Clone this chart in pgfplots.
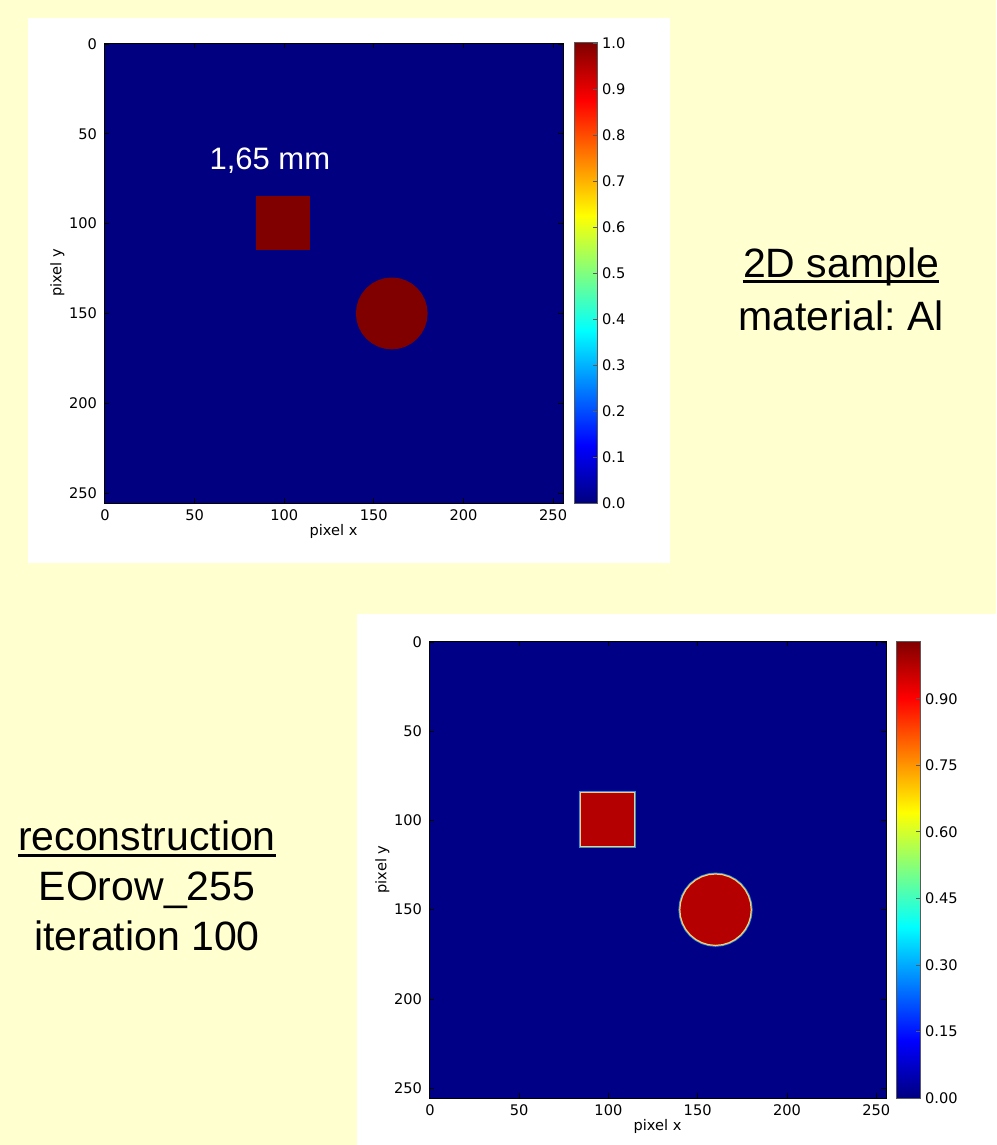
\documentclass[border=0pt]{standalone}
\usepackage{fontspec}
\setmainfont{Liberation Sans}
\newfontfamily\dejavu{DejaVu Sans}
\usepackage{pgfplots}
\usepackage{pgfplotstable}
\pgfplotsset{compat=1.18}
\frenchspacing

\definecolor{slidebg}{RGB}{255,255,208}
\definecolor{jetlow}{RGB}{0,0,128}
\definecolor{jethigh}{RGB}{128,0,0}
\definecolor{recbg}{RGB}{0,0,134}
\definecolor{recred}{RGB}{180,0,0}
\definecolor{recrim}{RGB}{250,205,110}
\definecolor{rechalo}{RGB}{40,150,230}
\definecolor{cbedge}{RGB}{90,90,90}

% image field, square and disc outlines (pixel units)
\pgfplotstableread{
x y
-0.5 -0.5
255.5 -0.5
255.5 255.5
-0.5 255.5
}\field
\pgfplotstableread{
x y
84.5 84.5
114.5 84.5
114.5 114.5
84.5 114.5
}\block
\pgfplotstableread{
x y
180 150
179.62 153.90
178.48 157.65
176.63 161.11
174.14 164.14
171.11 166.63
167.65 168.48
163.90 169.62
160 170
156.10 169.62
152.35 168.48
148.89 166.63
145.86 164.14
143.37 161.11
141.52 157.65
140.38 153.90
140 150
140.38 146.10
141.52 142.35
143.37 138.89
145.86 135.86
148.89 133.37
152.35 131.52
156.10 130.38
160 130
163.90 130.38
167.65 131.52
171.11 133.37
174.14 135.86
176.63 138.89
178.48 142.35
179.62 146.10
}\disc

\newcommand\tickfont{\dejavu\fontsize{7.3}{8.5}\selectfont}
\newcommand\slidefont{\fontsize{20.5}{24}\selectfont}

\pgfplotsset{
  /pgf/number format/assume math mode=true,
  imgaxis/.style={
    scale only axis,
    anchor=south west,
    axis on top,
    xmin=-0.5, xmax=255.5, ymin=-0.5, ymax=255.5,
    y dir=reverse,
    xtick={0,50,100,150,200,250},
    ytick={0,50,100,150,200,250},
    tick align=inside,
    major tick length=2.5pt,
    tick style={black, line width=0.4pt},
    axis line style={line width=0.5pt},
    tick label style={font=\tickfont},
    label style={font=\tickfont},
    xlabel={pixel x}, ylabel={pixel y},
    xlabel style={yshift=5pt},
    ylabel style={yshift=-4.5pt},
    colormap/jet,
    colorbar right,
  },
  cbar/.style={
    at={(parent axis.north east)}, anchor=north west,
    y dir=normal,
    ytick pos=right, yticklabel pos=right,
    tick align=inside, major tick length=2pt,
    tick style={cbedge, line width=0.4pt},
    axis line style={cbedge, line width=0.5pt},
    yticklabel style={font=\tickfont, xshift=-1pt,
      /pgf/number format/.cd, fixed, fixed zerofill, assume math mode=true},
  },
}

\begin{document}
\begin{tikzpicture}
\useasboundingbox (0,0) rectangle (498pt,-572.5pt);
\fill[slidebg] (0,0) rectangle (498pt,-572.5pt);
\fill[white] (14pt,-9pt) rectangle (335pt,-281.5pt);
\fill[white] (178.5pt,-307pt) rectangle (498pt,-572.5pt);

% original sample
\begin{axis}[
  imgaxis,
  at={(52pt,-251.5pt)},
  width=229.5pt, height=230pt,
  point meta min=0, point meta max=1,
  colorbar style={cbar, width=11.5pt, xshift={5.5pt-0.3cm},
    ytick={0,0.1,0.2,0.3,0.4,0.5,0.6,0.7,0.8,0.9,1.0},
    yticklabel style={/pgf/number format/precision=1}},
]
\addplot[fill=jetlow, draw=none] table {\field} -- cycle;
\addplot[fill=jethigh, draw=none] table {\block} -- cycle;
\addplot[fill=jethigh, draw=none] table {\disc} -- cycle;
\node[white, font=\fontsize{15.5}{18}\selectfont, anchor=base] at (axis cs:92,70) {1,65 mm};
\end{axis}

% reconstruction
\begin{axis}[
  imgaxis,
  at={(214.5pt,-549pt)},
  width=228.5pt, height=228.5pt,
  point meta min=0, point meta max=1.03,
  colorbar style={cbar, width=12pt, xshift={5pt-0.3cm},
    ytick={0,0.15,0.30,0.45,0.60,0.75,0.90},
    yticklabel style={/pgf/number format/precision=2}},
]
\addplot[fill=recbg, draw=none] table {\field} -- cycle;
\addplot[draw=rechalo, line width=1.4pt] table {\block} -- cycle;
\addplot[draw=rechalo, line width=1.4pt] table {\disc} -- cycle;
\addplot[fill=recred, draw=recrim, line width=0.6pt] table {\block} -- cycle;
\addplot[fill=recred, draw=recrim, line width=0.6pt] table {\disc} -- cycle;
\end{axis}

% slide captions
\node[font=\slidefont, anchor=base, inner sep=0] (t1) at (420.5pt,-138.5pt) {2D sample};
\draw[line width=1.3pt] ([yshift=-2.3pt]t1.base west) -- ([yshift=-2.3pt]t1.base east);
\node[font=\slidefont, anchor=base, inner sep=0] at (420.5pt,-165pt) {material: Al};

\node[font=\slidefont, anchor=base, inner sep=0] (t2) at (73.5pt,-425pt) {reconstruction};
\draw[line width=1.3pt] ([yshift=-2.8pt]t2.base west) -- ([yshift=-2.8pt]t2.base east);
\node[font=\slidefont, anchor=base, inner sep=0] at (73.5pt,-450pt) {EOrow\_255};
\node[font=\slidefont, anchor=base, inner sep=0] at (73.5pt,-475pt) {iteration 100};
\end{tikzpicture}
\end{document}
